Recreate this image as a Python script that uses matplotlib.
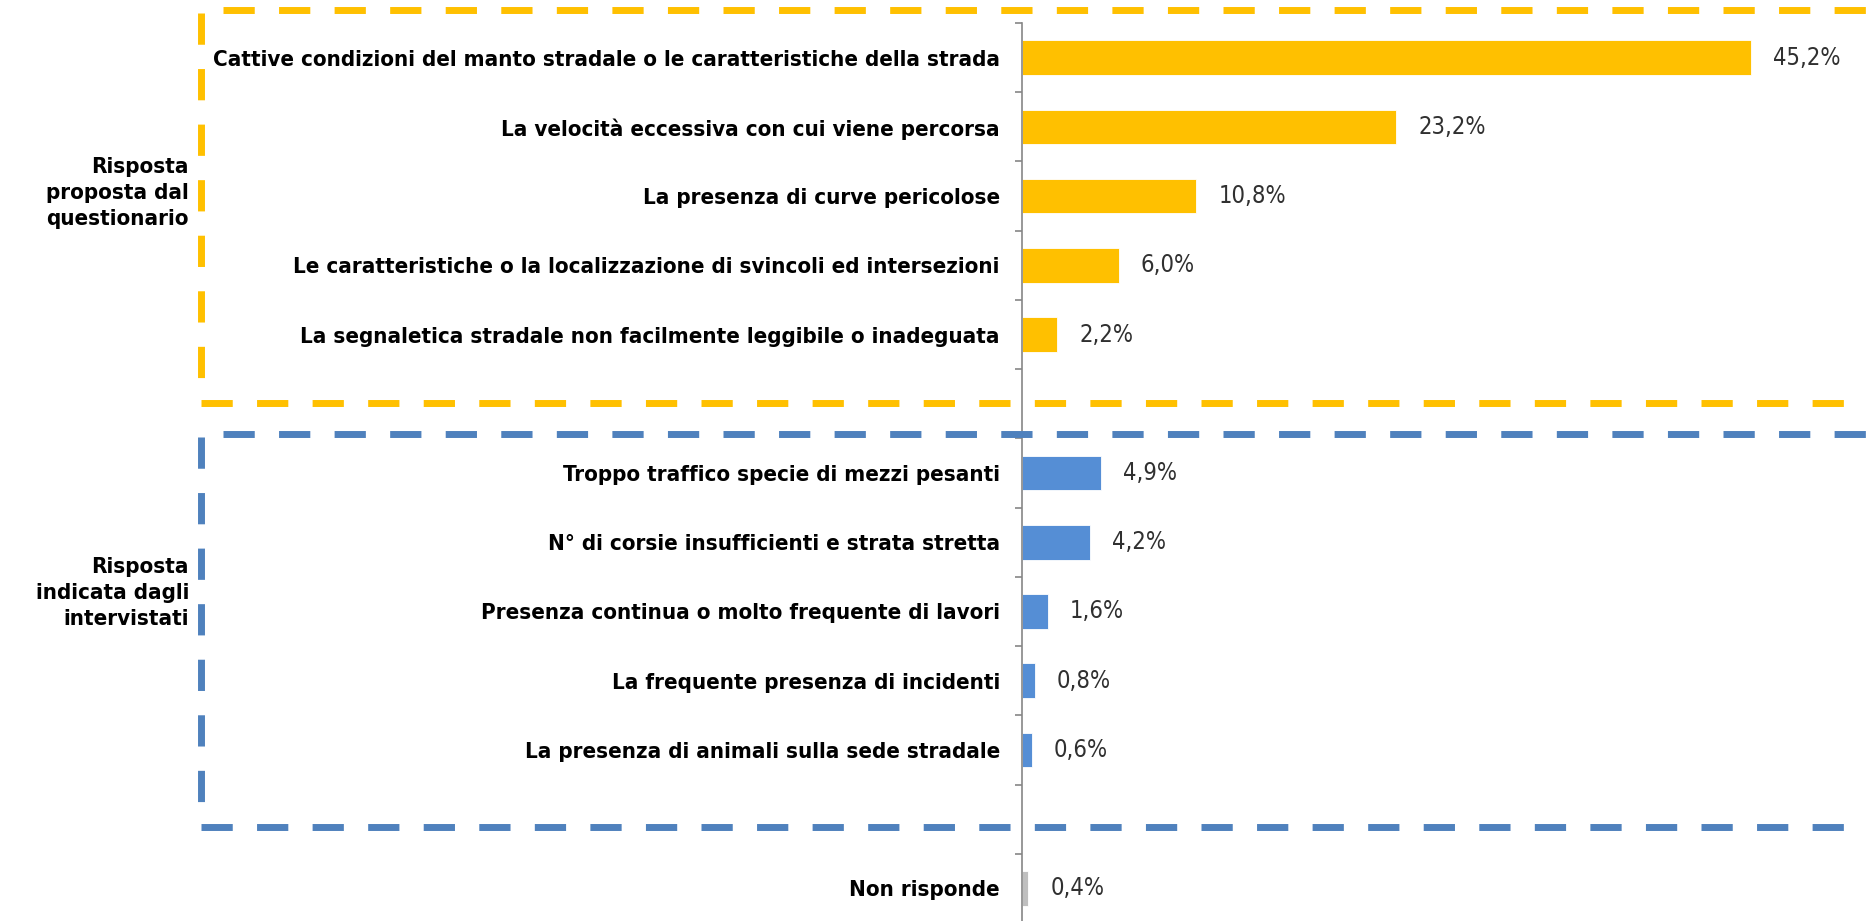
import matplotlib
matplotlib.use("Agg")
import matplotlib.pyplot as plt
import matplotlib.font_manager as fm
from matplotlib.lines import Line2D
from matplotlib.ticker import FixedLocator

# dati
categorie = [
    "Cattive condizioni del manto stradale o le caratteristiche della strada",
    "La velocità eccessiva con cui viene percorsa",
    "La presenza di curve pericolose",
    "Le caratteristiche o la localizzazione di svincoli ed intersezioni",
    "La segnaletica stradale non facilmente leggibile o inadeguata",
    "",
    "Troppo traffico specie di mezzi pesanti",
    "N° di corsie insufficienti e strata stretta",
    "Presenza continua o molto frequente di lavori",
    "La frequente presenza di incidenti",
    "La presenza di animali sulla sede stradale",
    "",
    "Non risponde",
]
valori = [45.2, 23.2, 10.8, 6.0, 2.2, None, 4.9, 4.2, 1.6, 0.8, 0.6, None, 0.4]
gruppi = ["q", "q", "q", "q", "q", None, "i", "i", "i", "i", "i", None, "n"]
etichette_gruppo = ["Risposta\nproposta dal\nquestionario", "Risposta\nindicata dagli\nintervistati"]

colori = {"q": "#FFC000", "i": "#558ED5", "n": "#BFBFBF"}

# font
nomi = {f.name for f in fm.fontManager.ttflist}
if "Liberation Sans Narrow" in nomi:
    font_lab = dict(family="Liberation Sans Narrow", weight="bold")
    font_val = dict(family="Liberation Sans Narrow", weight="normal")
else:
    font_lab = dict(family="DejaVu Sans", weight="bold", stretch="condensed")
    font_val = dict(family="DejaVu Sans", weight="light", stretch="condensed")

W, H = 1866, 921
fs = 16
fig = plt.figure(figsize=(W / 100, H / 100), dpi=100)
ax = fig.add_axes([1022 / W, (H - 923) / H, 1 - 1022 / W, 900 / H])

for i, (v, g) in enumerate(zip(valori, gruppi)):
    if v is None:
        continue
    ax.barh(i, v, height=0.5, color=colori[g], edgecolor="white", linewidth=0.6)
    ax.annotate(f"{v:.1f}%".replace(".", ","), (v, i), xytext=(16, 0),
                textcoords="offset points", va="center", ha="left",
                fontsize=fs + 1, color="#303030", **font_val)

ax.set_ylim(len(categorie) - 0.5, -0.5)
ax.set_xlim(0, 844 / 16.12)
ax.set_yticks(range(len(categorie)))
ax.set_yticklabels(categorie, fontsize=fs, **font_lab)
ax.yaxis.set_minor_locator(FixedLocator([k - 0.5 for k in range(len(categorie) + 1)]))
ax.tick_params(axis="y", which="major", length=0, pad=16)
ax.tick_params(axis="y", which="minor", length=5, width=1.2, color="#868686")
ax.set_xticks([])
for s in ["top", "right", "bottom"]:
    ax.spines[s].set_visible(False)
ax.spines["left"].set_color("#868686")
ax.spines["left"].set_linewidth(1.2)

# etichette dei gruppi
fig.text(189 / W, 1 - 193 / H, etichette_gruppo[0], ha="right", va="center",
         fontsize=fs, linespacing=1.35, **font_lab)
fig.text(189 / W, 1 - 593 / H, etichette_gruppo[1], ha="right", va="center",
         fontsize=fs, linespacing=1.35, **font_lab)

# riquadri tratteggiati
def tratto(x0, y0, x1, y1, colore):
    fig.add_artist(Line2D([x0 / W, x1 / W], [1 - y0 / H, 1 - y1 / H],
                          transform=fig.transFigure, color=colore, lw=5,
                          linestyle=(0, (4.5, 3.5)), solid_capstyle="butt"))

giallo, blu = "#FFC000", "#4F81BD"
tratto(223, 10, W, 10, giallo)
tratto(201, 13, 201, 380, giallo)
tratto(201, 403, W, 403, giallo)
tratto(223, 434, W, 434, blu)
tratto(201, 437, 201, 804, blu)
tratto(201, 827, W, 827, blu)

fig.savefig("out.png", dpi=100, facecolor="white")
